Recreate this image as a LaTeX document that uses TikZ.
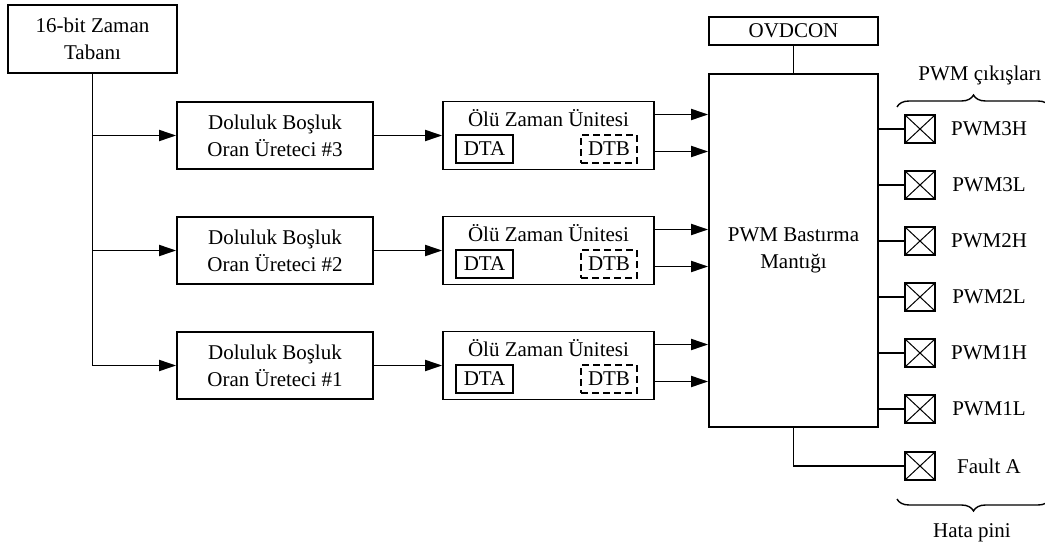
\documentclass[tikz,border=0pt]{standalone}
\usepackage{fontspec}
\setmainfont{Liberation Serif}
\usetikzlibrary{calc,arrows.meta,decorations.pathreplacing}
\begin{document}
\begin{tikzpicture}[x=1pt,y=-1pt,
  every node/.style={font=\fontsize{21}{27}\selectfont, inner sep=0pt},
  blk/.style={draw, line width=1.8pt, rectangle, align=center},
  ln/.style={line width=1.8pt},
  arr/.style={line width=1.8pt, -{Triangle[length=17pt,width=11pt]}},
  pin/.style={draw, line width=1.6pt, minimum width=30pt, minimum height=28pt,
    path picture={\draw[line width=1pt] (path picture bounding box.south west) -- (path picture bounding box.north east)
      (path picture bounding box.north west) -- (path picture bounding box.south east);}},
  plab/.style={anchor=center},
  brc/.style={decorate, decoration={brace, amplitude=12pt}, line width=1.4pt}
]
\useasboundingbox (0,0) rectangle (1045,551);
\fill[white] (0,0) rectangle (1045,551);

\node[blk, minimum width=169pt, minimum height=68pt] (tb) at (92.5,39) {16-bit Zaman\\Tabanı};

\node[blk, minimum width=169pt, minimum height=353pt] (pwm) at (793.5,250.5) {PWM Bastırma\\Mantığı};
\node[blk, minimum width=169pt, minimum height=28pt] (ov) at (793.5,31) {OVDCON};
\draw[ln] (ov.south) -- (pwm.north);

\foreach \i/\y/\n in {1/135.5/3, 2/250.5/2, 3/365.5/1} {
  \node[blk, minimum width=196pt, minimum height=67pt] (d\i) at (275,\y) {Doluluk Boşluk\\Oran Üreteci \#\n};
  \node[blk, minimum width=211pt, minimum height=68pt] (z\i) at (548.5,\y) {};
  \node (zt\i) at ($(z\i.center)+(0,-17)$) {Ölü Zaman Ünitesi};
  \node[blk, line width=1.5pt, minimum width=57pt, minimum height=28pt] (a\i) at ($(z\i.center)+(-64,13.5)$) {DTA};
  \node[draw, line width=1.5pt, dash pattern=on 7pt off 4pt, minimum width=56pt, minimum height=28pt] (b\i) at ($(z\i.center)+(60.5,13.5)$) {DTB};
  \coordinate (zo\i a) at ($(z\i.east)+(0,-21)$);
  \coordinate (zo\i b) at ($(z\i.east)+(0,16)$);
  \coordinate (pi\i a) at (zo\i a -| pwm.west);
  \coordinate (pi\i b) at (zo\i b -| pwm.west);
  \draw[arr] (tb.south) |- (d\i.west);
  \draw[arr] (d\i.east) -- (z\i.west);
  \draw[arr] (zo\i a) -- (pi\i a);
  \draw[arr] (zo\i b) -- (pi\i b);
}

\foreach \i/\y/\t in {1/129/PWM3H, 2/185/PWM3L, 3/241/PWM2H, 4/297/PWM2L, 5/353/PWM1H, 6/409/PWM1L} {
  \node[pin] (p\i) at (920,\y) {};
  \node[plab] (l\i) at (989,\y) {\t};
  \draw[ln] (p\i.west) -- (p\i.west -| pwm.east);
}
\node[pin] (p7) at (920,466) {};
\node[plab] (l7) at (989,466) {Fault A};
\draw[ln] (pwm.south) |- (p7.west);

\coordinate (bt1) at (897,107);
\coordinate (bt2) at (1050,107);
\draw[brc] (bt1) -- (bt2);
\node (pc) at (980,75) {PWM çıkışları};
\coordinate (bb1) at (1050,499);
\coordinate (bb2) at (897,499);
\draw[brc] (bb1) -- (bb2);
\node (hp) at (972,533) {Hata pini};
\end{tikzpicture}
\end{document}
